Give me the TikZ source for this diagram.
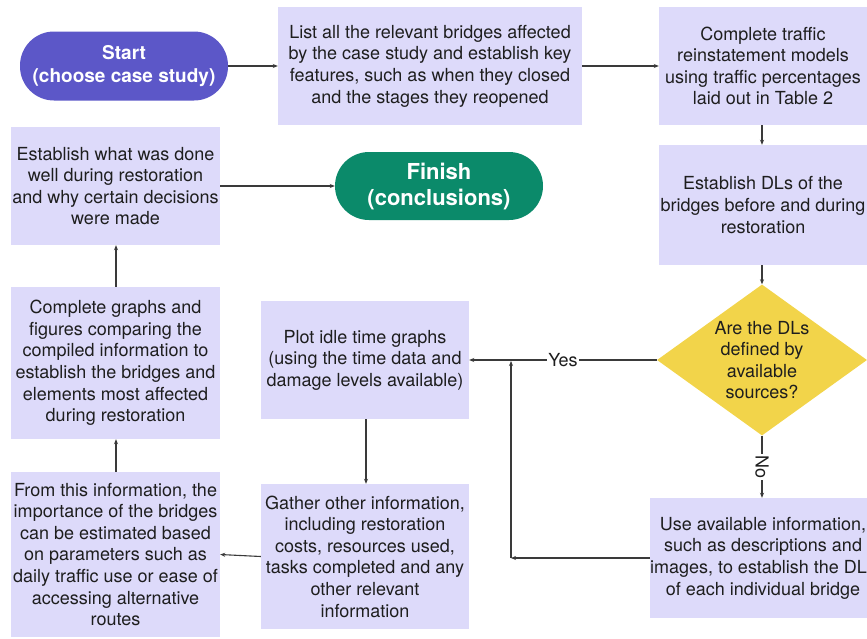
\documentclass[tikz,border=0pt]{standalone}
\usepackage{fontspec}
\setmainfont{TeX Gyre Heros}
\usetikzlibrary{shapes.geometric,arrows.meta}
\definecolor{boxfill}{HTML}{DDDAFA}
\definecolor{startfill}{HTML}{5C57C8}
\definecolor{finishfill}{HTML}{0B8A6A}
\definecolor{diafill}{HTML}{F2D44A}
\definecolor{linecol}{HTML}{3A3A3A}
\definecolor{txtcol}{HTML}{1E1E1E}
\tikzset{
  stepbox/.style={rectangle, fill=boxfill, draw=none, inner sep=0pt, align=center,
    text=txtcol, font=\fontsize{18}{21.6}\selectfont},
  terminal/.style={rectangle, rounded corners=34pt, draw=none, inner sep=0pt, align=center,
    text=white, font=\bfseries},
  arr/.style={draw=linecol, line width=1.1pt, -{Stealth[length=5pt,width=4pt]}},
  lbl/.style={fill=white, inner sep=1.5pt, text=txtcol, font=\fontsize{18}{21.6}\selectfont}
}
\begin{document}
\begin{tikzpicture}[x=1pt,y=-1pt]
\useasboundingbox (0,0) rectangle (867,638);
\clip (0,0) rectangle (867,638);

\node[terminal, fill=startfill, minimum width=208pt, minimum height=69pt,
  font=\bfseries\fontsize{19}{23}\selectfont] (start) at (124,66) {Start\\(choose case study)};
\node[stepbox, minimum width=304pt, minimum height=118pt] (b1) at (430,66)
  {List all the relevant bridges affected\\by the case study and establish key\\features, such as when they closed\\and the stages they reopened};
\node[stepbox, minimum width=208pt, minimum height=118pt] (b2) at (763,66)
  {Complete traffic\\reinstatement models\\using traffic percentages\\laid out in Table 2};
\node[stepbox, minimum width=208pt, minimum height=120pt] (b3) at (763,205)
  {Establish DLs of the\\bridges before and during\\restoration};
\node[diamond, fill=diafill, draw=none, inner sep=0pt, minimum width=210pt, minimum height=151pt] (dia) at (762,360) {};
\node[align=center, text=txtcol, font=\fontsize{18}{21.6}\selectfont] (diatext) at (dia.center)
  {Are the DLs\\defined by\\available\\sources?};
\node[stepbox, minimum width=208pt, minimum height=118pt] (plot) at (365,360)
  {Plot idle time graphs\\(using the time data and\\damage levels available)};
\node[stepbox, minimum width=208pt, minimum height=145pt] (gather) at (365,556.5)
  {Gather other information,\\including restoration\\costs, resources used,\\tasks completed and any\\other relevant\\information};
\node[stepbox, minimum width=220pt, minimum height=120pt] (use) at (763,558)
  {Use available information,\\such as descriptions and\\images, to establish the DLs\\of each individual bridge};
\node[stepbox, minimum width=209pt, minimum height=165pt] (from) at (115.5,554.5)
  {From this information, the\\importance of the bridges\\can be estimated based\\on parameters such as\\daily traffic use or ease of\\accessing alternative\\routes};
\node[stepbox, minimum width=209pt, minimum height=152pt] (complete) at (115.5,363)
  {Complete graphs and\\figures comparing the\\compiled information to\\establish the bridges and\\elements most affected\\during restoration};
\node[stepbox, minimum width=209pt, minimum height=118pt] (establish) at (115.5,186)
  {Establish what was done\\well during restoration\\and why certain decisions\\were made};
\node[terminal, fill=finishfill, minimum width=208pt, minimum height=68pt,
  font=\bfseries\fontsize{22}{26}\selectfont] (finish) at (439,186) {Finish\\(conclusions)};

\coordinate (j1) at (511,558);
\coordinate (j2) at (511,361);

\draw[arr] (start.east) -- (b1.west);
\draw[arr] (b1.east) -- (b2.west);
\draw[arr] (b2.south -| 762,0) -- (b3.north -| 762,0);
\draw[arr] (b3.south -| dia.north) -- (dia.north);
\draw[arr] (dia.west) -- node[lbl, pos=0.5] (yes) {Yes} (plot.east);
\draw[arr] (dia.south) -- node[lbl, rotate=-90, pos=0.5] (no) {No} (use.north -| dia.south);
\draw[arr] (use.west) -- (j1);
\draw[arr] (j1) -- (j2);
\draw[arr] (plot.south -| 366,0) -- (gather.north -| 366,0);
\draw[arr] (gather.west) -- (from.east);
\draw[arr] (from.north -| 116,0) -- (complete.south -| 116,0);
\draw[arr] (complete.north -| 116,0) -- (establish.south -| 116,0);
\draw[arr] (establish.east) -- (finish.west);
\end{tikzpicture}
\end{document}
